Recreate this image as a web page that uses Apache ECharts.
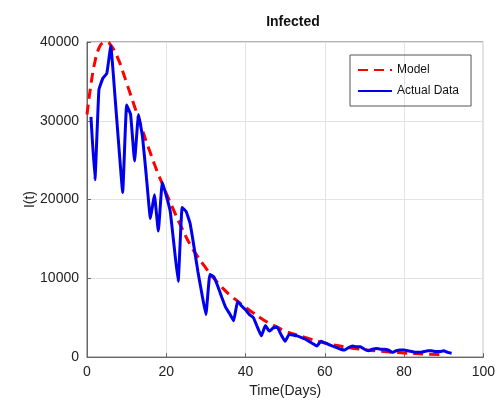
<!DOCTYPE html>
<html>
<head>
<meta charset="utf-8">
<script src="https://cdn.jsdelivr.net/npm/echarts@6/dist/echarts.min.js"></script>
<style>
  html, body { margin: 0; padding: 0; background: #fff; }
  #chart { width: 498px; height: 403px; }
</style>
</head>
<body>
<div id="chart"></div>
<script>
const modelDays = [0, 1, 2, 3, 4, 5, 6, 7, 8, 9, 10, 11, 12, 13, 14, 15, 16, 17, 18, 19, 20,
  22, 24, 26, 28, 30, 32, 34, 36, 38, 40, 42, 44, 46, 48, 50, 55, 60, 65, 70, 75, 80, 85, 90];
const modelValues = [30800, 34600, 37500, 39200, 39900, 40000, 39600, 38800, 37700, 36300, 34800,
  33300, 31800, 30300, 28800, 27300, 25900, 24500, 23200, 22000, 20800,
  18500, 16300, 14300, 12700, 11300, 10000, 8900, 7900, 7100, 6300, 5600, 4900, 4300, 3800, 3300,
  2500, 1800, 1300, 950, 700, 520, 400, 300];

// actual data, days 1..92
const actualValues = [30500, 22500, 33900, 35400, 36000, 39500, 33500, 27000, 20900, 32000,
  30800, 24900, 30800, 28000, 22800, 17600, 20600, 16000, 22200, 20500,
  18500, 14000, 9600, 19000, 18500, 17000, 14000, 10800, 8000, 5400,
  10500, 10200, 9000, 7600, 6300, 5500, 4600, 7100, 6500, 6000,
  5400, 5000, 3800, 2700, 4000, 3300, 3700, 3800, 2800, 2000,
  2900, 2800, 2700, 2500, 2300, 2000, 1700, 1400, 2000, 1800,
  1600, 1400, 1200, 1000, 900, 1200, 1400, 1300, 1300, 1000,
  800, 1000, 1100, 1000, 1000, 900, 600, 800, 900, 900,
  800, 700, 600, 600, 700, 800, 800, 700, 700, 800,
  600, 500];

const xTicks = [0, 20, 40, 60, 80, 100];
const yTicks = [0, 10000, 20000, 30000, 40000];

const chart = echarts.init(document.getElementById('chart'));
const font = 'Liberation Sans, Arial, sans-serif';

chart.setOption({
  animation: false,
  backgroundColor: '#fff',
  textStyle: { fontFamily: font },
  title: {
    text: 'Infected',
    left: 288,
    top: 10,
    textAlign: 'center',
    textStyle: { fontSize: 14, fontWeight: 'bold', color: '#111', fontFamily: font },
  },
  grid: {
    left: 87, right: 10, top: 42, bottom: 45,
    show: true, borderColor: '#666', borderWidth: 1,
  },
  legend: {
    orient: 'vertical',
    left: 350,
    top: 55,
    padding: [9, 12, 9, 7],
    itemGap: 9,
    itemWidth: 34,
    itemHeight: 12,
    borderColor: '#555',
    borderWidth: 1,
    itemStyle: { opacity: 0 },
    textStyle: { fontSize: 12, color: '#111', fontFamily: font },
    data: ['Model', 'Actual Data'],
  },
  xAxis: {
    type: 'value',
    min: xTicks[0],
    max: xTicks[xTicks.length - 1],
    interval: 20,
    name: 'Time(Days)',
    nameLocation: 'middle',
    nameGap: 22,
    nameTextStyle: { fontSize: 14, color: '#222' },
    axisLine: { show: true, lineStyle: { color: '#666' } },
    axisTick: { inside: true, length: 4, lineStyle: { color: '#666' } },
    axisLabel: { fontSize: 14, color: '#222', margin: 8 },
    splitLine: { show: true, lineStyle: { color: '#e3e3e3' } },
  },
  yAxis: {
    type: 'value',
    min: yTicks[0],
    max: yTicks[yTicks.length - 1],
    interval: 10000,
    name: 'I(t)',
    nameLocation: 'middle',
    nameGap: 50,
    nameMoveOverlap: false,
    nameTextStyle: { fontSize: 14, color: '#222' },
    axisLine: { show: true, lineStyle: { color: '#666' } },
    axisTick: { show: true, inside: true, length: 4, lineStyle: { color: '#666' } },
    axisLabel: { fontSize: 14, color: '#222', margin: 8, formatter: (v) => String(v) },
    splitLine: { show: true, lineStyle: { color: '#e3e3e3' } },
  },
  series: [
    {
      name: 'Model',
      type: 'line',
      smooth: true,
      symbol: 'none',
      data: modelDays.map((d, i) => [d, modelValues[i]]),
      lineStyle: { color: '#f00', width: 3, type: [10, 6] },
      itemStyle: { color: '#f00' },
      z: 2,
    },
    {
      name: 'Actual Data',
      type: 'line',
      smooth: 0.1,
      symbol: 'none',
      data: actualValues.map((v, i) => [i + 1, v]),
      lineStyle: { color: '#0000ee', width: 3 },
      itemStyle: { color: '#0000ee' },
      z: 3,
    },
  ],
});
</script>
</body>
</html>
